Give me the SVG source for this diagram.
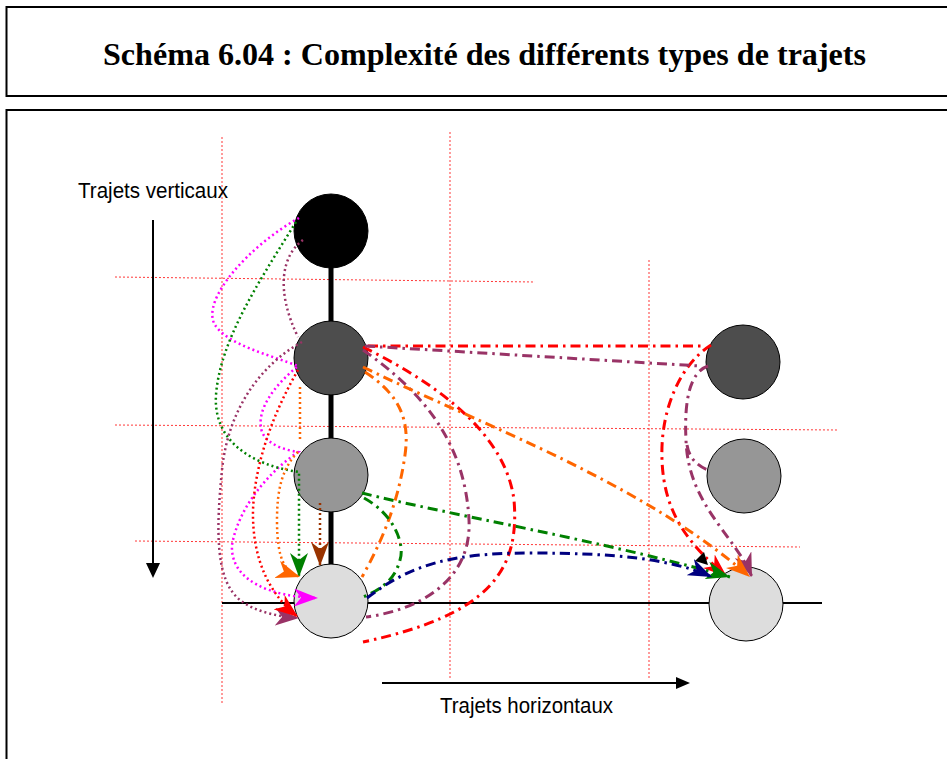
<svg xmlns="http://www.w3.org/2000/svg" width="947" height="759" viewBox="0 0 947 759">
<style>
.frame{fill:none;stroke:#000;stroke-width:2}
.grid{fill:none;stroke:#ff2020;stroke-width:1;stroke-dasharray:2 2;opacity:0.9}
.dot{fill:none;stroke-width:2.5;stroke-dasharray:2 3}
.dd{fill:none;stroke-width:3;stroke-dasharray:10 5 2.5 5}
.node{stroke:#000;stroke-width:1}
.lbl{font-family:"Liberation Sans",Arial,sans-serif;font-size:22px;fill:#000}
</style>
<defs>
<marker id="mMag" viewBox="0 0 24 18" markerWidth="24" markerHeight="18" refX="24" refY="9" orient="auto" markerUnits="userSpaceOnUse"><path d="M0,0 L24,9 L0,18 L7,9 z" fill="#ff00ff"/></marker>
<marker id="mGrn" viewBox="0 0 24 18" markerWidth="24" markerHeight="18" refX="24" refY="9" orient="auto" markerUnits="userSpaceOnUse"><path d="M0,0 L24,9 L0,18 L7,9 z" fill="#008000"/></marker>
<marker id="mPlm" viewBox="0 0 24 18" markerWidth="24" markerHeight="18" refX="24" refY="9" orient="auto" markerUnits="userSpaceOnUse"><path d="M0,0 L24,9 L0,18 L7,9 z" fill="#993366"/></marker>
<marker id="mRed" viewBox="0 0 24 18" markerWidth="24" markerHeight="18" refX="24" refY="9" orient="auto" markerUnits="userSpaceOnUse"><path d="M0,0 L24,9 L0,18 L7,9 z" fill="#ff0000"/></marker>
<marker id="mOrg" viewBox="0 0 24 18" markerWidth="24" markerHeight="18" refX="24" refY="9" orient="auto" markerUnits="userSpaceOnUse"><path d="M0,0 L24,9 L0,18 L7,9 z" fill="#ff6600"/></marker>
<marker id="mBrn" viewBox="0 0 24 18" markerWidth="24" markerHeight="18" refX="24" refY="9" orient="auto" markerUnits="userSpaceOnUse"><path d="M0,0 L24,9 L0,18 L7,9 z" fill="#993300"/></marker>
<marker id="mNav" viewBox="0 0 24 18" markerWidth="24" markerHeight="18" refX="24" refY="9" orient="auto" markerUnits="userSpaceOnUse"><path d="M0,0 L24,9 L0,18 L7,9 z" fill="#000080"/></marker>
</defs>
<rect width="947" height="759" fill="#fff"/>
<g id="title">
<rect class="frame" x="6.5" y="7" width="1000" height="89"/>
<text x="103" y="65" textLength="763" lengthAdjust="spacingAndGlyphs" font-family="'Liberation Serif','Times New Roman',serif" font-weight="bold" font-size="32">Schéma 6.04 : Complexité des différents types de trajets</text>
</g>
<rect class="frame" x="6.5" y="110" width="1000" height="700"/>
<g id="grid">
<line class="grid" x1="222" y1="137" x2="222" y2="705"/>
<line class="grid" x1="450" y1="132" x2="450" y2="680"/>
<line class="grid" x1="649" y1="260" x2="649" y2="680"/>
<line class="grid" x1="115" y1="277" x2="535" y2="282"/>
<line class="grid" x1="115" y1="425" x2="838" y2="430"/>
<line class="grid" x1="135" y1="541" x2="800" y2="547"/>
</g>
<g id="axes">
<line x1="153" y1="220" x2="153" y2="565" stroke="#000" stroke-width="2"/>
<polygon points="146,563 160,563 153,578" fill="#000"/>
<text class="lbl" x="78" y="198" textLength="150" lengthAdjust="spacingAndGlyphs">Trajets verticaux</text>
<line x1="382" y1="683" x2="677" y2="683" stroke="#000" stroke-width="2"/>
<polygon points="676,677 676,689 690,683" fill="#000"/>
<text class="lbl" x="440" y="713" textLength="173" lengthAdjust="spacingAndGlyphs">Trajets horizontaux</text>
</g>
<g id="track">
<line x1="331" y1="230" x2="331" y2="601" stroke="#000" stroke-width="5"/>
<line x1="222" y1="603" x2="822" y2="603" stroke="#000" stroke-width="2"/>
</g>
<g id="n-top"><circle class="node" cx="331" cy="231" r="37" fill="#000"/></g>
<g id="n-l2"><circle class="node" cx="331" cy="358" r="37" fill="#4d4d4d"/></g>
<g id="n-l3"><circle class="node" cx="331" cy="475" r="37" fill="#969696"/></g>
<g id="n-l4"><circle class="node" cx="331" cy="601" r="37" fill="#dddddd"/></g>
<g id="n-r2"><circle class="node" cx="743" cy="362" r="37" fill="#4d4d4d"/></g>
<g id="n-r3"><circle class="node" cx="744" cy="476" r="37" fill="#969696"/></g>
<g id="n-r4"><circle class="node" cx="746" cy="604" r="37" fill="#dddddd"/></g>
<g id="connectors">
<path class="dot" stroke="#ff00ff" d="M299,218 C250,245 200,300 215,325 C228,345 270,355 298,366 C275,385 255,410 262,432 C268,445 285,450 298,452 C265,475 238,510 232,545 C230,580 270,597 318,598" marker-end="url(#mMag)"/>
<path class="dot" stroke="#008000" d="M296,222 C260,280 220,340 216,395 C213,440 250,465 299,472 L299,577" marker-end="url(#mGrn)"/>
<path class="dot" stroke="#993366" d="M303,240 C282,255 275,290 298,337"/>
<path class="dot" stroke="#993366" d="M302,342 C260,365 228,410 222,470 C216,530 215,580 240,600 C255,612 280,617 299,618" marker-end="url(#mPlm)"/>
<path class="dot" stroke="#ff0000" d="M298,370 C275,410 255,460 253,510 C252,560 270,595 298,617" marker-end="url(#mRed)"/>
<path class="dot" stroke="#ff6600" d="M300,387 L300,442"/>
<path class="dot" stroke="#ff6600" d="M298,452 C282,468 277,490 277,520 C277,560 285,572 300,577" marker-end="url(#mOrg)"/>
<path class="dot" stroke="#993300" d="M320,503 L320,566" marker-end="url(#mBrn)"/>
<path class="dd" stroke="#ff0000" d="M368,346 L703,346"/>
<path class="dd" stroke="#ff0000" d="M711,345 C680,365 660,410 662,460 C664,515 690,545 727,577" marker-end="url(#mRed)"/>
<path class="dd" stroke="#ff0000" d="M363,347 C430,380 505,430 514,500 C520,570 490,615 363,642"/>
<path class="dd" stroke="#993366" d="M365,346 L700,366"/>
<path class="dd" stroke="#993366" d="M708,366 C690,372 684,400 686,440 C688,505 735,535 752,577" marker-end="url(#mPlm)"/>
<path class="dd" stroke="#993366" d="M687,445 Q690,463 708,470"/>
<path class="dd" stroke="#993366" d="M363,350 C420,390 465,440 469,520 C472,580 420,610 366,617"/>
<path class="dd" stroke="#ff6600" d="M363,367 C420,395 470,415 550,453 C620,487 690,525 750,577" marker-end="url(#mOrg)"/>
<path class="dd" stroke="#ff6600" d="M365,372 C400,395 410,420 405,455 C398,505 380,545 362,577"/>
<path class="dd" stroke="#008000" d="M362,493 C450,515 600,540 730,577" marker-end="url(#mGrn)"/>
<path class="dd" stroke="#008000" d="M364,498 C395,515 405,545 400,560 C395,580 380,590 363,597"/>
<path class="dd" stroke="#000080" stroke-width="2" stroke-dasharray="8 5 2 5" d="M367,598 C410,565 450,553 530,553 C610,553 670,558 712,577" marker-end="url(#mNav)"/>
<polygon points="695,561 704,552 708,565" fill="#000"/>
</g>
</svg>
